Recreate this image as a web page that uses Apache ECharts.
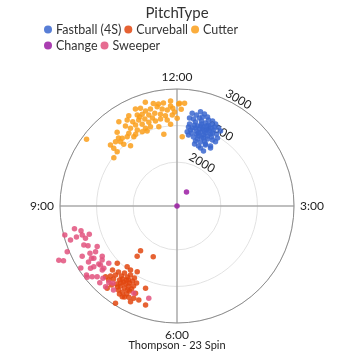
<!DOCTYPE html>
<html>
<head>
<meta charset="utf-8">
<script src="https://cdn.jsdelivr.net/npm/echarts@6/dist/echarts.min.js"></script>
<style>
  html, body { margin: 0; padding: 0; background: #fff; }
  #chart { width: 354px; height: 354px; }
</style>
</head>
<body>
<div id="chart"></div>
<script>
// spin axis as clock angle in degrees (0 = 12:00, clockwise), spin rate in rpm
// each point: [rpm, angle]
const pitchTypes = ['Fastball (4S)', 'Curveball', 'Cutter', 'Change', 'Sweeper']
const pitchColors = ['#3b67cf', '#e2470f', '#fa9f1b', '#9b1ca3', '#e2527e']

const fastball = [
  [2684, 9.3], [2729, 14.0], [2673, 12.1], [2713, 16.6], [2611, 10.7], [2642, 14.3], [2687, 18.9],
  [2660, 22.7], [2534, 8.7], [2576, 12.4], [2610, 16.1], [2600, 18.9], [2599, 22.5], [2639, 25.2],
  [2609, 28.0], [2491, 8.3], [2487, 11.2], [2530, 14.4], [2539, 18.5], [2538, 22.2], [2553, 25.7],
  [2426, 7.8], [2418, 11.2], [2460, 14.6], [2462, 17.6], [2472, 21.3], [2486, 25.0], [2523, 28.7],
  [2370, 13.4], [2401, 17.1], [2398, 21.3], [2407, 24.5], [2425, 28.3], [2425, 30.9], [2324, 15.9],
  [2333, 20.2], [2333, 24.7], [2340, 29.2], [2256, 22.1], [2321, 25.0], [2316, 30.0], [2271, 19.7],
  [2509, 18.3], [2515, 21.2], [2497, 16.3], [2534, 12.2], [2653, 20.1], [2666, 16.0], [2455, 26.6],
  [2365, 22.9], [2359, 17.0], [2456, 10.1], [2596, 25.4], [2437, 20.5], [2570, 16.6], [2566, 20.2],
  [2518, 23.4], [2420, 15.2], [2510, 25.9], [2235, 25.7], [2616, 8.1], [2586, 30.1], [2482, 30.8],
  [2281, 15.8], [2445, 23.5], [2540, 16.4], [2493, 20.1], [2441, 16.4], [2588, 21.3], [2401, 19.6],
  [2497, 13.3], [2566, 23.9], [2383, 9.2]
]

const curveball = [
  [2277, 218.4], [2189, 219.2], [2166, 205.1], [2532, 226.2], [2474, 219.4], [2482, 216.0], [2450, 211.2],
  [2605, 200.9], [2722, 205.4], [2788, 202.1], [2821, 197.6], [2974, 212.3], [2855, 205.9], [2849, 211.1],
  [2794, 205.1], [2876, 220.3], [2775, 225.3], [2776, 222.7], [2812, 207.8], [2643, 225.2], [2664, 221.7],
  [2606, 221.6], [2622, 218.4], [2564, 218.1], [2584, 214.9], [2538, 214.0], [2681, 217.8], [2671, 215.1],
  [2625, 214.3], [2637, 211.7], [2593, 210.7], [2750, 217.8], [2739, 215.2], [2732, 212.6], [2680, 211.2],
  [2695, 208.7], [2800, 214.9], [2792, 212.4], [2788, 209.8], [2732, 209.2], [2723, 221.0], [2803, 219.7],
  [2678, 213.4], [2646, 216.7], [2645, 208.5], [2733, 210.5], [2706, 216.3], [2774, 216.3], [2543, 210.6],
  [2721, 223.5], [2837, 210.0], [2837, 213.2], [2590, 207.7], [2610, 213.2]
]

const cutter = [
  [2882, 343.0], [2840, 347.0], [2839, 356.5], [2804, 1.4], [2785, 348.7], [2742, 351.3], [2720, 354.2],
  [2737, 357.5], [2843, 336.8], [2826, 339.5], [2769, 341.7], [2776, 344.7], [2758, 336.4], [2800, 331.9],
  [2741, 339.2], [2703, 342.8], [2703, 346.5], [2674, 349.8], [2644, 352.7], [2646, 357.0], [2800, 325.4],
  [2759, 329.9], [2702, 332.3], [2687, 336.0], [2669, 339.7], [2644, 332.9], [2614, 336.9], [2608, 341.4],
  [2599, 345.8], [2611, 349.3], [2584, 353.5], [2521, 355.5], [2639, 329.1], [2573, 332.4], [2546, 337.9],
  [2543, 341.5], [2513, 347.1], [2593, 326.5], [2532, 330.0], [2521, 334.9], [2504, 338.3], [2698, 320.9],
  [2591, 321.0], [2567, 324.3], [2517, 328.1], [2397, 349.6], [2617, 316.3], [2571, 318.7], [2515, 319.2],
  [2634, 312.5], [2571, 312.4], [2441, 322.4], [2505, 312.2], [2487, 307.4], [2599, 0.1], [2937, 306.4],
  [2795, 1.0], [2808, 4.2], [2724, 2.5], [2350, 4.3], [2818, 349.7], [2821, 352.5], [2649, 344.4],
  [2721, 337.2], [2701, 327.2], [2627, 319.3], [2770, 356.3], [2686, 358.5]
]

const change = [[1400, 0], [1631, 34.2]]

const sweeper = [
  [2836, 257.5], [2756, 255.5], [2755, 253.0], [2660, 252.2], [2985, 255.5], [2929, 252.3], [2727, 250.6],
  [2781, 247.3], [2733, 245.9], [2624, 243.1], [3026, 247.4], [2677, 240.7], [2754, 241.5], [2867, 242.1],
  [2744, 237.8], [2632, 236.1], [3179, 245.3], [3123, 244.3], [2770, 238.6], [2662, 234.2], [2732, 233.4],
  [2965, 237.2], [2858, 234.2], [2808, 233.9], [2721, 232.4], [2746, 229.4], [2714, 229.6], [2956, 232.7],
  [2910, 230.2], [2858, 228.5], [2815, 225.7], [2888, 225.2], [2802, 221.7], [2874, 221.5], [2773, 219.6],
  [2618, 230.0], [2968, 231.6], [2839, 252.9], [2832, 237.7], [2732, 206.3], [2720, 197.0], [2840, 217.1]
]

const seriesData = [fastball, curveball, cutter, change, sweeper]

// axis ticks
const clockLabels = { 0: '12:00', 90: '3:00', 180: '6:00', 270: '9:00' }
const spinTicks = [2000, 2500, 3000]
const spinMin = 1400
const spinMax = 3000

const font = 'Lato'

let chart = echarts.init(document.getElementById('chart'))

let options = {
    animation: false,
    textStyle: { fontFamily: font },
    title: [
        {
            text: 'PitchType',
            left: 'center',
            top: 1,
            textStyle: { fontFamily: font, fontSize: 15, fontWeight: 'normal', color: '#333' }
        },
        {
            text: 'Thompson - 23 Spin',
            left: 'center',
            top: 340,
            padding: 0,
            textStyle: { fontFamily: font, fontSize: 11, fontWeight: 'normal', color: '#222' }
        }
    ],
    legend: {
        data: pitchTypes,
        left: 44,
        top: 23,
        width: 205,
        padding: 0,
        icon: 'circle',
        itemWidth: 8,
        itemHeight: 8,
        itemGap: 3,
        textStyle: { fontFamily: font, fontSize: 12.5, color: '#333', padding: [0, 0, 0, -1] }
    },
    // polar 0 holds the data, polar 1 only carries the tilted rpm labels
    polar: [
        { center: ['50%', 206], radius: 117 },
        { center: ['50%', 206], radius: 117 }
    ],
    angleAxis: [
        {
            polarIndex: 0,
            type: 'value',
            min: 0,
            max: 360,
            interval: 90,
            startAngle: 90,
            clockwise: true,
            axisLine: { lineStyle: { color: '#8c8c8c', width: 1 } },
            axisTick: { show: false },
            axisLabel: {
                margin: 6,
                fontFamily: font,
                fontSize: 12,
                color: '#222',
                formatter: v => clockLabels[v] || ''
            },
            splitLine: { show: true, lineStyle: { color: '#ababab', width: 1.5 } }
        },
        {
            polarIndex: 1,
            type: 'value',
            min: 0,
            max: 360,
            startAngle: 60,
            clockwise: true,
            show: false
        }
    ],
    radiusAxis: [
        {
            polarIndex: 0,
            type: 'value',
            min: spinMin,
            max: spinMax,
            axisLine: { show: false },
            axisTick: { show: false, customValues: spinTicks },
            axisLabel: { show: false, customValues: spinTicks },
            splitLine: { show: true, lineStyle: { color: '#e2e2e2', width: 1 } }
        },
        {
            polarIndex: 1,
            type: 'value',
            min: spinMin,
            max: spinMax,
            axisLine: { show: false },
            axisTick: { show: false, customValues: spinTicks },
            axisLabel: {
                customValues: spinTicks,
                formatter: v => String(v),
                rotate: -30,
                margin: 0,
                align: 'center',
                verticalAlign: 'bottom',
                fontFamily: font,
                fontSize: 12,
                color: '#222'
            },
            splitLine: { show: false }
        }
    ],
    series: pitchTypes.map((name, i) => ({
        name: name,
        type: 'scatter',
        coordinateSystem: 'polar',
        polarIndex: 0,
        clip: false,
        symbolSize: 5.5,
        itemStyle: { color: pitchColors[i], opacity: 0.85 },
        data: seriesData[i]
    }))
}

chart.setOption(options)
</script>
</body>
</html>
